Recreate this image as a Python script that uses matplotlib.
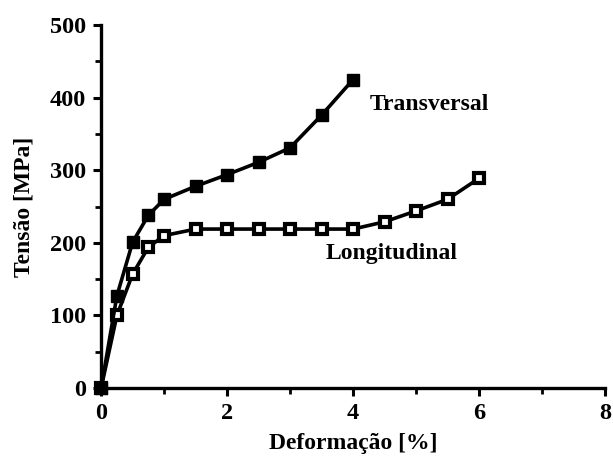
import matplotlib.pyplot as plt
from matplotlib.ticker import MultipleLocator

# --- dados ---
deform_trans = [0, 0.25, 0.5, 0.75, 1.0, 1.5, 2.0, 2.5, 3.0, 3.5, 4.0]
tensao_trans = [0, 127, 201, 238, 260, 278, 294, 311, 331, 376, 425]

deform_long = [0, 0.25, 0.5, 0.75, 1.0, 1.5, 2.0, 2.5, 3.0, 3.5, 4.0, 4.5, 5.0, 5.5, 6.0]
tensao_long = [0, 100, 157, 194, 210, 219, 219, 219, 219, 219, 219, 229, 244, 260, 289]

xticks = [0, 2, 4, 6, 8]
yticks = [0, 100, 200, 300, 400, 500]

plt.rcParams['font.family'] = ['Liberation Serif', 'DejaVu Serif']
plt.rcParams['font.weight'] = 'bold'
plt.rcParams['axes.labelweight'] = 'bold'

fig = plt.figure(figsize=(6.13, 4.57), dpi=100)
ax = fig.add_axes([0.165, 0.151, 0.822, 0.794])

ax.plot(deform_long, tensao_long, color='black', lw=2.6, marker='s', ms=7,
        mfc='white', mec='black', mew=3.0, clip_on=False, zorder=3)
ax.plot(deform_trans, tensao_trans, color='black', lw=2.6, marker='s', ms=8,
        mfc='black', mec='black', clip_on=False, zorder=4)

ax.text(4.27, 390, 'Transversal', fontsize=17, va='center', ha='left')
ax.text(3.56, 185, 'Longitudinal', fontsize=17, va='center', ha='left')

ax.set_xlim(0, 8)
ax.set_ylim(0, 500)
ax.set_xticks(xticks)
ax.set_yticks(yticks)
ax.xaxis.set_minor_locator(MultipleLocator(1))
ax.yaxis.set_minor_locator(MultipleLocator(50))

for s in ['top', 'right']:
    ax.spines[s].set_visible(False)
for s in ['left', 'bottom']:
    ax.spines[s].set_linewidth(2.4)

ax.tick_params(which='major', direction='out', length=6, width=2.2, labelsize=17.5, pad=5)
ax.tick_params(which='minor', direction='out', length=4, width=2.0)

ax.set_xlabel('Deformação [%]', fontsize=17, labelpad=6)
ax.set_ylabel('Tensão [MPa]', fontsize=17, labelpad=11)

fig.savefig('out.png', dpi=100)
